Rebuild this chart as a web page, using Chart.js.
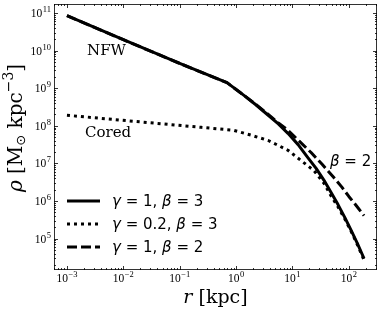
<!DOCTYPE html>
<html>
<head>
<meta charset="utf-8">
<script src="https://cdn.jsdelivr.net/npm/chart.js@4.4.0/dist/chart.umd.min.js"></script>
<style>
  html, body { margin: 0; padding: 0; background: #fff; }
</style>
</head>
<body>
<canvas id="rhoChart" width="382" height="312"></canvas>
<script>
// density profiles, values

// gamma = 1, beta = 3 (NFW)
const rNfw = [0.001, 0.01, 0.1, 0.69, 1.38, 2.24, 3.72, 5.62, 8.32, 12.6, 18.6, 26.3, 36.3, 47.9, 64.6, 85.1, 110, 141, 186];
const rhoNfw = [8.5e10, 1.95e10, 4.57e9, 1.41e9, 6.46e8, 3.63e8, 1.91e8, 1.12e8, 6.31e7, 3.16e7, 1.45e7, 7.4e6, 3.55e6, 1.74e6, 7.9e5, 3.6e5, 1.66e5, 7.6e4, 2.95e4];

// gamma = 0.2, beta = 3 (cored)
const rCored = [0.001, 0.038, 0.24, 0.91, 1.86, 3.72, 8.32, 14.1, 24, 36.3, 47.9, 64.6, 85.1, 110, 141, 186];
const rhoCored = [1.91e8, 1.17e8, 9.12e7, 7.59e7, 5.62e7, 4.07e7, 2.24e7, 1.2e7, 6.46e6, 2.95e6, 1.4e6, 6.9e5, 3.3e5, 1.55e5, 7.0e4, 2.7e4];

// gamma = 1, beta = 2
const rBeta2 = [0.001, 0.01, 0.1, 0.69, 1.38, 2.24, 3.72, 5.62, 8.32, 13.2, 21.4, 33.9, 53.7, 75.9, 100, 135, 186];
const rhoBeta2 = [8.5e10, 1.95e10, 4.57e9, 1.41e9, 6.46e8, 3.7e8, 2.0e8, 1.2e8, 7.59e7, 3.9e7, 1.95e7, 9.3e6, 4.27e6, 2.3e6, 1.32e6, 7.6e5, 4.07e5];

// decade exponents for tick labels
const xTicks = [-3, -2, -1, 0, 1, 2];
const yTicks = [5, 6, 7, 8, 9, 10, 11];

const legendLabels = ['γ = 1, β = 3', 'γ = 0.2, β = 3', 'γ = 1, β = 2'];
const legendDash = [[], [3, 4], [10, 4]];

const SERIF = '"DejaVu Serif", serif';
const TICKF = '"Liberation Serif", serif';
const SANS = '"DejaVu Sans", sans-serif';

function pts(xs, ys) {
  return xs.map((v, i) => ({ x: v, y: ys[i] }));
}

// draws text where greek letters come out italic
function drawMath(ctx, str, x, y, size, family) {
  let cx = x;
  for (const ch of str) {
    const greek = /[α-ω]/.test(ch);
    ctx.font = (greek ? 'italic ' : '') + size + 'px ' + family;
    ctx.fillText(ch, cx, y);
    cx += ctx.measureText(ch).width;
  }
  return cx;
}

// "10" with a raised exponent
function powWidth(ctx, e) {
  ctx.font = '11.5px ' + TICKF;
  const w1 = ctx.measureText('10').width;
  ctx.font = '8.5px ' + TICKF;
  return w1 + ctx.measureText(String(e).replace('-', '−')).width + 0.5;
}
function drawPow(ctx, e, x, base) {
  ctx.textAlign = 'left';
  ctx.font = '11.5px ' + TICKF;
  ctx.fillText('10', x, base);
  const w1 = ctx.measureText('10').width;
  ctx.font = '8.5px ' + TICKF;
  ctx.fillText(String(e).replace('-', '−'), x + w1 + 0.5, base - 5);
}

const decor = {
  id: 'decor',
  afterDatasetsDraw(chart) {
    const { ctx, chartArea: a, scales: { x, y } } = chart;
    ctx.save();
    ctx.strokeStyle = '#000';
    ctx.fillStyle = '#000';
    ctx.lineWidth = 0.8;
    ctx.strokeRect(a.left + 0.5, a.top + 0.5, a.right - a.left - 1, a.bottom - a.top - 1);

    // tick marks, pointing inward on all four sides
    const tick = (px, len, horiz) => {
      ctx.beginPath();
      if (horiz) {
        ctx.moveTo(px, a.bottom); ctx.lineTo(px, a.bottom - len);
        ctx.moveTo(px, a.top); ctx.lineTo(px, a.top + len);
      } else {
        ctx.moveTo(a.left, px); ctx.lineTo(a.left + len, px);
        ctx.moveTo(a.right, px); ctx.lineTo(a.right - len, px);
      }
      ctx.stroke();
    };
    for (let e = -4; e <= 3; e++) {
      for (let k = 1; k <= 9; k++) {
        const v = k * Math.pow(10, e);
        if (v < x.min || v > x.max) continue;
        tick(Math.round(x.getPixelForValue(v)) + 0.5, k === 1 ? 4 : 2, true);
      }
    }
    for (let e = 3; e <= 12; e++) {
      for (let k = 1; k <= 9; k++) {
        const v = k * Math.pow(10, e);
        if (v < y.min || v > y.max) continue;
        tick(Math.round(y.getPixelForValue(v)) + 0.5, k === 1 ? 4 : 2, false);
      }
    }

    // tick labels
    ctx.textBaseline = 'alphabetic';
    xTicks.forEach(e => {
      const px = x.getPixelForValue(Math.pow(10, e));
      drawPow(ctx, e, px - powWidth(ctx, e) / 2, a.bottom + 12);
    });
    yTicks.forEach(e => {
      const py = y.getPixelForValue(Math.pow(10, e));
      drawPow(ctx, e, 51 - powWidth(ctx, e), py + 4);
    });

    // axis titles
    ctx.textAlign = 'left';
    ctx.font = 'italic 19px ' + SERIF;
    const wr = ctx.measureText('r').width;
    ctx.font = '19px ' + SERIF;
    const wk = ctx.measureText(' [kpc]').width;
    const sx = (a.left + a.right) / 2 - (wr + wk) / 2;
    ctx.font = 'italic 19px ' + SERIF;
    ctx.fillText('r', sx, 303);
    ctx.font = '19px ' + SERIF;
    ctx.fillText(' [kpc]', sx + wr, 303);

    ctx.save();
    ctx.translate(22, 128);
    ctx.rotate(-Math.PI / 2);
    const parts = [
      ['ρ', 'italic 20px ' + SERIF, 0],
      [' [M', '20px ' + SERIF, 0],
      ['⊙', '13px ' + SANS, 3],
      [' kpc', '20px ' + SERIF, 0],
      ['−3', '14px ' + SERIF, -9],
      [']', '20px ' + SERIF, 0]
    ];
    let tw = 0;
    parts.forEach(p => { ctx.font = p[1]; tw += ctx.measureText(p[0]).width; });
    let cx = -tw / 2;
    parts.forEach(p => {
      ctx.font = p[1];
      ctx.fillText(p[0], cx, p[2]);
      cx += ctx.measureText(p[0]).width;
    });
    ctx.restore();

    // annotations
    ctx.font = '15px ' + SERIF;
    ctx.fillText('NFW', 87, 55);
    ctx.fillText('Cored', 85, 137);
    drawMath(ctx, 'β = 2', 330, 166, 15, SANS);

    // legend
    const rows = [201, 224, 247];
    rows.forEach((ry, i) => {
      ctx.beginPath();
      ctx.lineWidth = 3;
      ctx.lineCap = 'butt';
      ctx.setLineDash(legendDash[i]);
      ctx.moveTo(67, ry);
      ctx.lineTo(100, ry);
      ctx.stroke();
      ctx.setLineDash([]);
      drawMath(ctx, legendLabels[i], 112, ry + 5, 15, SANS);
    });
    ctx.restore();
  }
};

const context = document.getElementById('rhoChart').getContext('2d');
new Chart(context, {
  type: 'line',
  data: {
    datasets: [
      { data: pts(rBeta2, rhoBeta2), borderColor: '#000', borderWidth: 3, borderDash: [10, 4], fill: false },
      { data: pts(rCored, rhoCored), borderColor: '#000', borderWidth: 3, borderDash: [3, 4], fill: false },
      { data: pts(rNfw, rhoNfw), borderColor: '#000', borderWidth: 3, fill: false }
    ]
  },
  options: {
    responsive: false,
    animation: false,
    devicePixelRatio: 1,
    layout: { padding: { top: 4, right: 5, left: 0, bottom: 0 } },
    elements: { point: { radius: 0 }, line: { tension: 0, borderCapStyle: 'butt', borderJoinStyle: 'round' } },
    plugins: { legend: { display: false }, tooltip: { enabled: false } },
    scales: {
      x: {
        type: 'logarithmic', min: 5.89e-4, max: 316,
        grid: { display: false }, border: { display: false },
        ticks: { display: false },
        afterFit: s => { s.height = 42; }
      },
      y: {
        type: 'logarithmic', min: 1.46e4, max: 1.74e11,
        grid: { display: false }, border: { display: false },
        ticks: { display: false },
        afterFit: s => { s.width = 54; }
      }
    }
  },
  plugins: [decor]
});
</script>
</body>
</html>
